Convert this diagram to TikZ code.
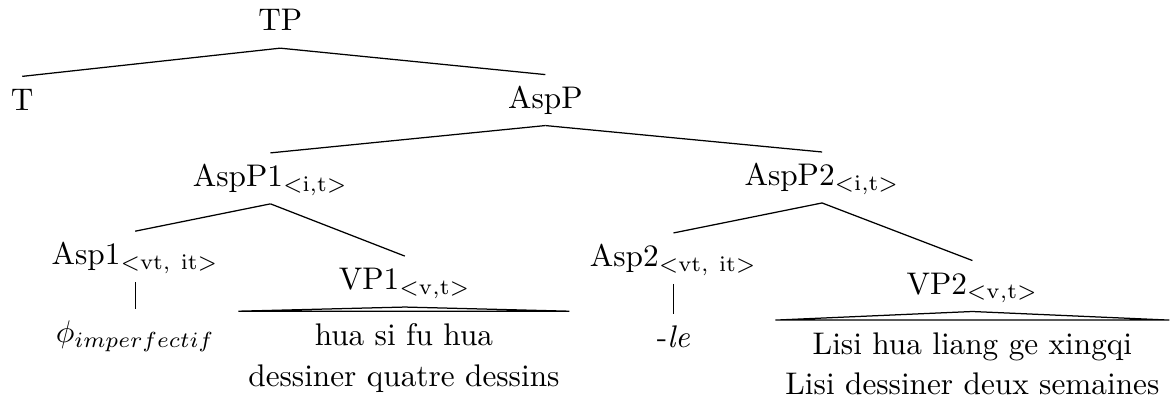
\documentclass[tikz,border=0pt]{standalone}
\begin{document}
\begin{tikzpicture}[tn/.style={anchor=base, inner sep=3.3pt, text height=7.3pt, text depth=2pt},
    rooftext/.style={anchor=north, align=center, inner xsep=3pt, inner ysep=3.8pt}]
    \useasboundingbox (0,0) rectangle (13.151,4.518);
    \node[tn] (TP) at (3.15,4.17) {TP};
    \node[tn] (T) at (0.25,3.28) {T};
    \node[tn] (AspP) at (6.13,3.30) {AspP};
    \node[tn] (AspPa) at (3.04,2.42) {AspP1$_{<\mathrm{i,t}>}$};
    \node[tn] (AspPb) at (9.24,2.43) {AspP2$_{<\mathrm{i,t}>}$};
    \node[tn] (Aspa) at (1.52,1.54) {Asp1$_{<\mathrm{vt,\ it}>}$};
    \node[tn] (VPa) at (4.55,1.26) {VP1$_{<\mathrm{v,t}>}$};
    \node[tn] (Aspb) at (7.57,1.52) {Asp2$_{<\mathrm{vt,\ it}>}$};
    \node[tn] (VPb) at (10.93,1.21) {VP2$_{<\mathrm{v,t}>}$};
    \node[tn] (phi) at (1.52,0.67) {$\phi_{imperfectif}$};
    \node[tn] (le) at (7.57,0.61) {-\textit{le}};
    \node[rooftext] (VPatext) at (4.54,1.02) {hua si fu hua\\[1pt] dessiner quatre dessins};
    \node[rooftext] (VPbtext) at (10.93,0.92) {Lisi hua liang ge xingqi\\[1pt] Lisi dessiner deux semaines};
    \draw (TP.south) -- (T.north); \draw (TP.south) -- (AspP.north);
    \draw (AspP.south) -- (AspPa.north); \draw (AspP.south) -- (AspPb.north);
    \draw (AspPa.south) -- (Aspa.north); \draw (AspPa.south) -- (VPa.north);
    \draw (AspPb.south) -- (Aspb.north); \draw (AspPb.south) -- (VPb.north);
    \draw (Aspa.south) -- (phi.north); \draw (Aspb.south) -- (le.north);
    \draw (VPa.south) -- (VPatext.north west) -- (VPatext.north east) -- cycle;
    \draw (VPb.south) -- (VPbtext.north west) -- (VPbtext.north east) -- cycle;
\end{tikzpicture}
\end{document}
